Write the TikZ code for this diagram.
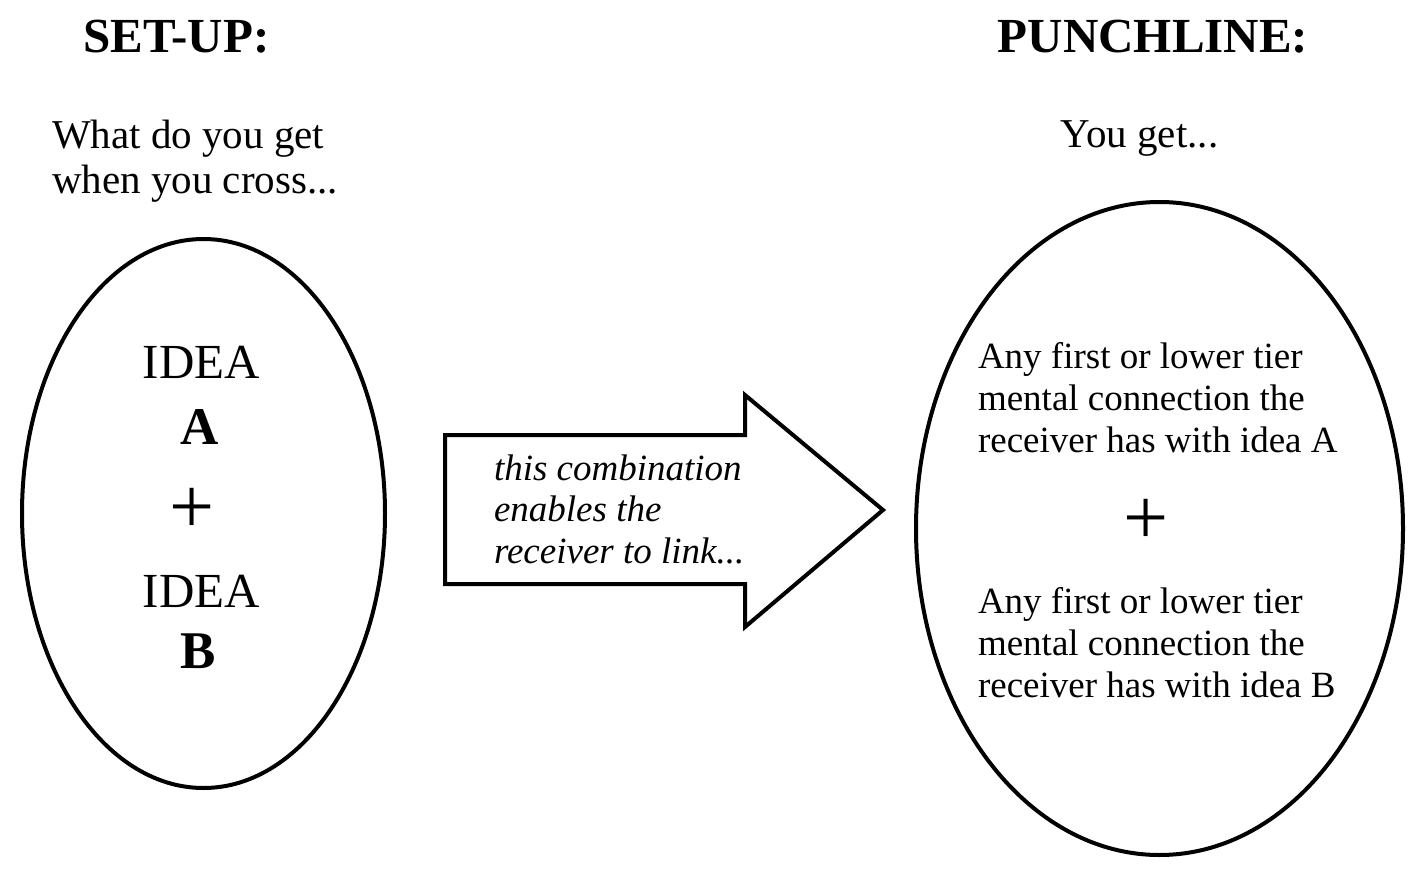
\documentclass[tikz,border=0pt]{standalone}
\usepackage{fontspec}
\setmainfont{Liberation Serif}

\tikzset{
  headtext/.style={font=\fontsize{49}{55}\selectfont\bfseries,inner sep=0pt,anchor=base},
  asktext/.style={font=\fontsize{41}{45}\selectfont,inner sep=0pt,anchor=base},
  ideatext/.style={font=\fontsize{49}{55}\selectfont,inner sep=0pt,anchor=base},
  lettertext/.style={font=\fontsize{53}{58}\selectfont\bfseries,inner sep=0pt,anchor=base},
  plustext/.style={font=\fontsize{80}{80}\selectfont,inner sep=0pt},
  bodytext/.style={font=\fontsize{37}{42}\selectfont,inner sep=0pt,anchor=base west},
  linktext/.style={font=\fontsize{37}{42}\selectfont\itshape,inner sep=0pt,anchor=base west}
}

\begin{document}
\begin{tikzpicture}[x=1pt,y=-1pt,line width=4pt]
  \useasboundingbox (0,0) rectangle (1428,870);
  % headings
  \node[headtext] (setup) at (176.5,52){SET-UP:};
  \node[headtext] (punch) at (1153,52){PUNCHLINE:};
  \node[asktext,anchor=base west] (ask1) at (50,148){What do you get};
  \node[asktext,anchor=base west] (ask2) at (50,193){when you cross...};
  \node[asktext] (youget) at (1139.5,147){You get...};
  % left oval
  \draw (203.5,513.5) ellipse (181.5pt and 274.5pt);
  \node[ideatext] (ideaA) at (201.5,378){IDEA};
  \node[lettertext] (letA) at (200,444){A};
  \node[plustext] (plusl) at (192,511){+};
  \node[ideatext] (ideaB) at (201.5,607){IDEA};
  \node[lettertext] (letB) at (198.5,668){B};
  % block arrow
  \draw[line join=miter] (445,435) -- (745,435) -- (745,395) -- (883,510)
    -- (745,627) -- (745,584) -- (445,584) -- cycle;
  \node[linktext] (link1) at (492,480){this combination};
  \node[linktext] (link2) at (492,521.5){enables the};
  \node[linktext] (link3) at (492,563){receiver to link...};
  % right oval
  \draw (1159.5,528.5) ellipse (243.5pt and 326.5pt);
  \foreach \txt [count=\i] in {{Any first or lower tier},{mental connection the},{receiver has with idea A}}
    \node[bodytext] (conA\i) at (976,326+42*\i){\txt};
  \node[plustext] (plusr) at (1146,522){+};
  \foreach \txt [count=\i] in {{Any first or lower tier},{mental connection the},{receiver has with idea B}}
    \node[bodytext] (conB\i) at (976,571+42*\i){\txt};
\end{tikzpicture}
\end{document}
